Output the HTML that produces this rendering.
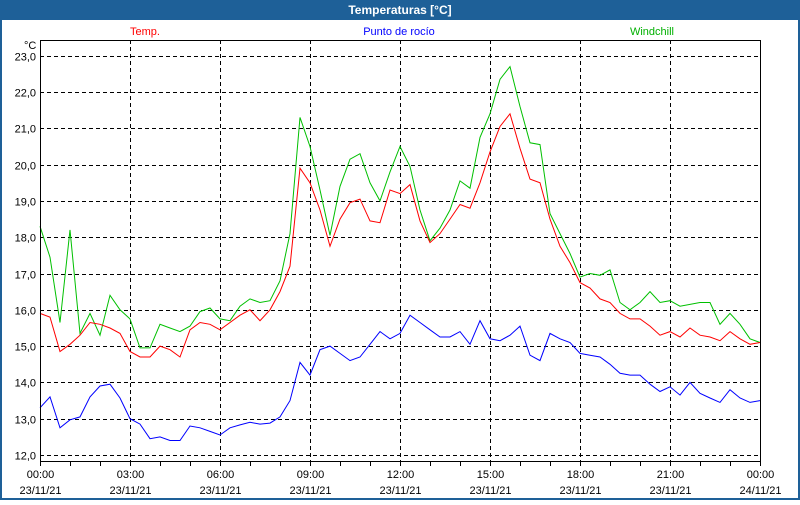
<!DOCTYPE html>
<html><head><meta charset="utf-8"><style>
body{margin:0;width:800px;height:500px;overflow:hidden;background:#fff;font-family:"Liberation Sans",sans-serif}
</style></head><body>
<svg id="chart" width="800" height="500" xmlns="http://www.w3.org/2000/svg" font-family="Liberation Sans, sans-serif" font-size="11">
<rect x="0" y="0" width="800" height="500" fill="#1e6098"/>
<rect x="2" y="20" width="796" height="478" fill="#fff"/>
<text x="400" y="14" text-anchor="middle" fill="#fff" font-weight="bold" font-size="12">Temperaturas [°C]</text>
<text x="145" y="35" text-anchor="middle" fill="#ff0000">Temp.</text>
<text x="399" y="35" text-anchor="middle" fill="#0000ff">Punto de rocío</text>
<text x="652" y="35" text-anchor="middle" fill="#00b000">Windchill</text>
<text x="24" y="49" fill="#000">°C</text>
<g id="grid"></g><g id="series"></g><g id="axes"></g>
</svg>
<script>
const yTicks=[12,13,14,15,16,17,18,19,20,21,22,23];
const yTickLabels=["12,0","13,0","14,0","15,0","16,0","17,0","18,0","19,0","20,0","21,0","22,0","23,0"];
const xTickHours=[0,3,6,9,12,15,18,21,24];
const xTimeLabels=["00:00","03:00","06:00","09:00","12:00","15:00","18:00","21:00","00:00"];
const xDateLabels=["23/11/21","23/11/21","23/11/21","23/11/21","23/11/21","23/11/21","23/11/21","23/11/21","24/11/21"];
const tempValues=[15.9,15.8,14.85,15.05,15.3,15.65,15.6,15.5,15.35,14.85,14.7,14.7,15.0,14.9,14.7,15.45,15.65,15.6,15.45,15.65,15.85,16.0,15.7,16.0,16.5,17.2,19.9,19.5,18.75,17.75,18.5,18.95,19.05,18.45,18.4,19.3,19.2,19.45,18.45,17.85,18.1,18.5,18.9,18.8,19.5,20.35,21.05,21.4,20.45,19.6,19.5,18.5,17.75,17.3,16.75,16.6,16.3,16.2,15.9,15.75,15.75,15.55,15.3,15.4,15.25,15.5,15.3,15.25,15.15,15.4,15.2,15.05,15.1];
const dewValues=[13.3,13.6,12.75,12.97,13.05,13.6,13.9,13.95,13.57,13.0,12.85,12.45,12.5,12.4,12.4,12.8,12.75,12.65,12.55,12.75,12.83,12.9,12.85,12.88,13.05,13.5,14.55,14.2,14.9,15.0,14.8,14.6,14.7,15.05,15.4,15.2,15.35,15.85,15.65,15.45,15.25,15.25,15.4,15.05,15.7,15.2,15.15,15.3,15.55,14.75,14.6,15.35,15.2,15.1,14.8,14.75,14.7,14.5,14.25,14.2,14.2,13.95,13.75,13.88,13.65,14.0,13.7,13.57,13.45,13.8,13.57,13.45,13.5];
const windValues=[18.3,17.45,15.65,18.2,15.35,15.9,15.3,16.4,16.0,15.75,14.95,14.95,15.6,15.5,15.4,15.55,15.95,16.05,15.75,15.7,16.1,16.3,16.2,16.25,16.8,18.1,21.3,20.5,19.3,18.05,19.4,20.15,20.3,19.5,19.0,19.8,20.5,19.95,18.75,17.9,18.25,18.75,19.55,19.35,20.75,21.4,22.35,22.7,21.6,20.6,20.55,18.65,18.1,17.55,16.9,17.0,16.95,17.1,16.2,16.0,16.2,16.5,16.2,16.25,16.1,16.15,16.2,16.2,15.6,15.9,15.6,15.2,15.1];
const stepHours=1/3;
const NS="http://www.w3.org/2000/svg";
const L=40,R=760,T=40,B=461;
function xs(h){return L+h*(R-L)/24;}
function ys(v){return 455-(v-12)*36.3;}
function mk(tag,attrs,parent){const e=document.createElementNS(NS,tag);for(const k in attrs)e.setAttribute(k,attrs[k]);parent.appendChild(e);return e;}
const grid=document.getElementById('grid'),axes=document.getElementById('axes'),series=document.getElementById('series');
yTicks.forEach((v,i)=>{
  const y=Math.round(ys(v))+0.5;
  const l=mk('line',{x1:L,x2:R,y1:y,y2:y,stroke:'#000','stroke-dasharray':'4,3'},grid);
  
  
  const t=mk('text',{x:36,y:y+4,'text-anchor':'end',fill:'#000'},axes);
  t.textContent=yTickLabels[i];
  
  
});
xTickHours.forEach((h,i)=>{
  const x=Math.round(xs(h))+0.5;
  if(h>0&&h<24){
    const l=mk('line',{x1:x,x2:x,y1:T,y2:B,stroke:'#000','stroke-dasharray':'4,3'},grid);
    
    
  }
  const t1=mk('text',{x:x,y:478,'text-anchor':'middle',fill:'#000'},axes);
  t1.textContent=xTimeLabels[i];
  
  
  const t2=mk('text',{x:x,y:494,'text-anchor':'middle',fill:'#000'},axes);
  t2.textContent=xDateLabels[i];
  
  
});
for(let h=0;h<=24;h++){
  const x=Math.round(xs(h))+0.5;
  const l=mk('line',{x1:x,x2:x,y1:B,y2:B+5,stroke:'#000'},axes);
  
  
}
const frame=mk('rect',{x:L+0.5,y:T+0.5,width:R-L,height:B-T,fill:'none',stroke:'#000'},axes);


function line(vals,color,name){
  const pts=vals.map((v,i)=>xs(i*stepHours).toFixed(1)+','+ys(v).toFixed(1)).join(' ');
  const p=mk('polyline',{points:pts,fill:'none',stroke:color,'stroke-width':1},series);
  
  
}
line(dewValues,'#0000ff','dew-point-line');
line(windValues,'#00c000','windchill-line');
line(tempValues,'#ff0000','temp-line');
</script>
</body></html>
